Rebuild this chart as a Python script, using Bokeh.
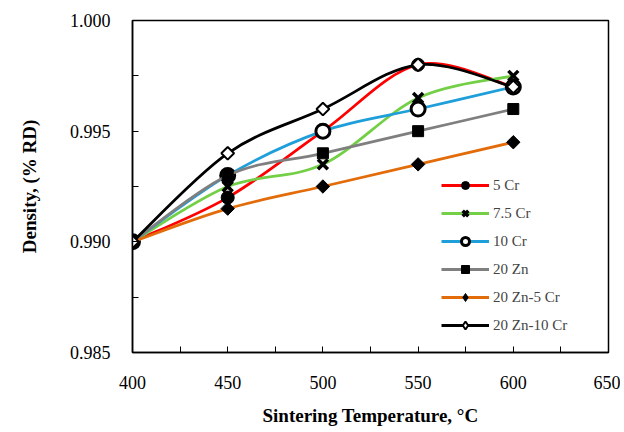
from math import pi
from bokeh.plotting import figure
from bokeh.models import Legend, LegendItem, FixedTicker, NumeralTickFormatter, ColumnDataSource
from bokeh.embed import file_html
from bokeh.resources import INLINE

temps = [400, 450, 500, 550, 600]
cr5 = [0.990, 0.992, 0.995, 0.998, 0.997]
cr75 = [0.990, 0.9925, 0.9935, 0.9965, 0.9975]
cr10 = [0.990, 0.993, 0.995, 0.996, 0.997]
zn20 = [0.990, 0.993, 0.994, 0.995, 0.996]
zn20cr5 = [0.990, 0.9915, 0.9925, 0.9935, 0.9945]
zn20cr10 = [0.990, 0.994, 0.996, 0.998, 0.997]

series = [
    ("5 Cr", cr5, "#FF0000", dict(marker="circle", size=13, fill_color="black", line_color="black"), None),
    ("7.5 Cr", cr75, "#73CF45", dict(marker="x", size=14, line_color="black", line_width=3.5), None),
    ("10 Cr", cr10, "#1E9FDA", dict(marker="circle", size=14, fill_color="white", line_color="black", line_width=3), None),
    ("20 Zn", zn20, "#7F7F7F", dict(marker="square", size=11, fill_color="black", line_color="black"), None),
    ("20 Zn-5 Cr", zn20cr5, "#E36C0A",
     dict(marker="square", angle=pi / 4, size=9.5, fill_color="black", line_color="black"),
     dict(marker="diamond", size=12, fill_color="black", line_color="black")),
    ("20 Zn-10 Cr", zn20cr10, "#000000",
     dict(marker="square", angle=pi / 4, size=9, fill_color="white", line_color="black", line_width=2),
     dict(marker="diamond", size=13, fill_color="white", line_color="black", line_width=2)),
]

W, H = 620, 428
p = figure(width=W, height=H, output_backend="svg", toolbar_location=None,
           x_range=(400, 650), y_range=(0.985, 1.000),
           min_border_left=132, min_border_right=W - 608, min_border_top=20, min_border_bottom=H - 355)
p.grid.visible = False
p.background_fill_color = "white"
p.border_fill_color = "white"
p.outline_line_color = "black"
p.outline_line_width = 1.5

font = "Liberation Serif"
p.xaxis.ticker = FixedTicker(ticks=[400, 450, 500, 550, 600, 650], minor_ticks=[425, 475, 525, 575, 625])
p.yaxis.ticker = FixedTicker(ticks=[0.985, 0.990, 0.995, 1.000], minor_ticks=[0.9875, 0.9925, 0.9975])
p.yaxis.formatter = NumeralTickFormatter(format="0.000")
for ax in (p.xaxis[0], p.yaxis[0]):
    ax.axis_line_color = "black"
    ax.axis_line_width = 1.5
    ax.major_tick_in = 6
    ax.major_tick_out = 0
    ax.minor_tick_in = 6
    ax.minor_tick_out = 0
    ax.major_tick_line_color = "black"
    ax.minor_tick_line_color = "black"
    ax.major_label_text_font = font
    ax.major_label_text_font_size = "18px"
    ax.major_label_text_color = "black"
    ax.axis_label_text_font = font
    ax.axis_label_text_font_size = "19px"
    ax.axis_label_text_font_style = "bold"
    ax.axis_label_text_color = "black"
p.xaxis.major_label_standoff = 23
p.yaxis.major_label_standoff = 22
p.xaxis.axis_label = "Sintering Temperature, °C"
p.yaxis.axis_label = "Density, (% RD)"
p.xaxis.axis_label_standoff = 13
p.yaxis.axis_label_standoff = 27

items = []
for name, vals, color, mk, legmk in series:
    n = len(vals)
    x0, y0, x1, y1, cx0, cy0, cx1, cy1 = [], [], [], [], [], [], [], []
    for i in range(n - 1):
        xa, ya = temps[i], vals[i]
        xb, yb = temps[i + 1], vals[i + 1]
        xp, yp = temps[max(i - 1, 0)], vals[max(i - 1, 0)]
        xn, yn = temps[min(i + 2, n - 1)], vals[min(i + 2, n - 1)]
        x0.append(xa); y0.append(ya); x1.append(xb); y1.append(yb)
        cx0.append(xa + (xb - xp) / 6); cy0.append(ya + (yb - yp) / 6)
        cx1.append(xb - (xn - xa) / 6); cy1.append(yb - (yn - ya) / 6)
    src = ColumnDataSource(dict(x0=x0, y0=y0, x1=x1, y1=y1, cx0=cx0, cy0=cy0, cx1=cx1, cy1=cy1))
    p.bezier(x0="x0", y0="y0", x1="x1", y1="y1", cx0="cx0", cy0="cy0", cx1="cx1", cy1="cy1",
             source=src, line_color=color, line_width=2.75)
    leg_line = p.line(x=temps[:1], y=vals[:1], line_color=color, line_width=3, visible=False)
    sc = p.scatter(x=temps, y=vals, **mk)
    if legmk is not None:
        leg_sc = p.scatter(x=temps[:1], y=vals[:1], visible=False, **legmk)
        items.append(LegendItem(label=name, renderers=[leg_line, leg_sc]))
    else:
        items.append(LegendItem(label=name, renderers=[leg_line, sc]))

legend = Legend(items=items, location=(309, 17), orientation="vertical",
                glyph_width=48, glyph_height=20, label_height=20, spacing=8,
                label_standoff=4, padding=6, margin=0,
                label_text_font=font, label_text_font_size="15px",
                border_line_color=None, background_fill_alpha=0)
p.add_layout(legend, "center")

open("out.html", "w").write(file_html(p, INLINE))
